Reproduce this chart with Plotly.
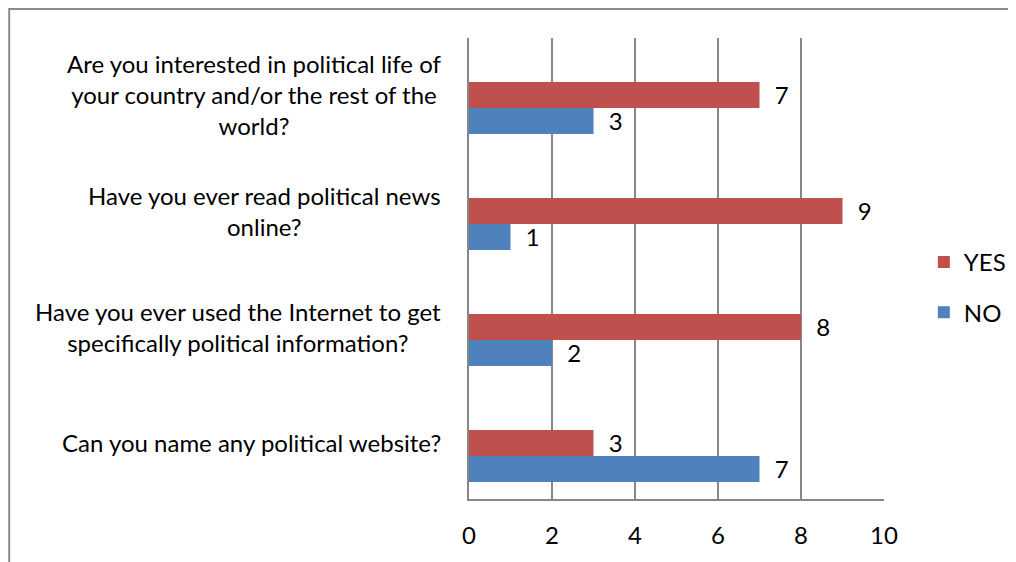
import plotly.graph_objects as go

categories = [
    "Are you interested in political life of<br>your country and/or the rest of the<br>world?",
    "Have you ever read political news<br>online?",
    "Have you ever used the Internet to get<br>specifically political information?",
    "Can you name any political website?",
]
yes_values = [7, 9, 8, 3]
no_values = [3, 1, 2, 7]
x_ticks = [0, 2, 4, 6, 8, 10]

FONT = "Lato"
FS = 24
fig = go.Figure()
fig.add_trace(go.Bar(
    y=categories, x=yes_values, orientation="h", name="YES",
    marker=dict(color="#C0504D", line=dict(width=0)),
    texttemplate="\u00a0\u00a0%{x}", textposition="outside", cliponaxis=False,
    constraintext="none",
    textfont=dict(family=FONT, size=FS, color="#000000"),
    legendgroup="a",
))
fig.add_trace(go.Bar(
    y=categories, x=no_values, orientation="h", name="NO",
    marker=dict(color="#4F81BD", line=dict(width=0)),
    texttemplate="\u00a0\u00a0%{x}", textposition="outside", cliponaxis=False,
    constraintext="none",
    textfont=dict(family=FONT, size=FS, color="#000000"),
    legendgroup="b",
))

for c in categories:
    fig.add_annotation(
        x=-0.063, xref="paper", y=c, yref="y", text=c, showarrow=False,
        xanchor="right", yanchor="middle", align="center", yshift=13,
        font=dict(family=FONT, size=FS, color="#000000"),
    )

fig.add_shape(type="rect", xref="paper", yref="paper",
              x0=-1.108, x1=1.4, y0=-0.2, y1=1.063,
              line=dict(color="#8c8c8c", width=2), layer="below")

fig.update_layout(
    width=1008, height=554,
    margin=dict(l=461, r=132, t=30, b=63, autoexpand=False),
    paper_bgcolor="white", plot_bgcolor="white",
    barmode="group", bargap=0.552, bargroupgap=0,
    font=dict(family=FONT, size=FS, color="#000000"),
    showlegend=True,
    legend=dict(x=1.096, y=0.459, xanchor="left", yanchor="middle",
                traceorder="grouped", tracegroupgap=16,
                font=dict(family=FONT, size=FS, color="#000000"),
                itemwidth=30, bgcolor="rgba(0,0,0,0)"),
    xaxis=dict(range=[0, 10], tickvals=x_ticks, showgrid=True,
               gridcolor="#878787", gridwidth=2, zeroline=False,
               showline=True, linecolor="#878787", linewidth=2,
               ticks="", tickfont=dict(family=FONT, size=FS), ticklabelstandoff=14),
    yaxis=dict(range=[3.371, -0.603], showticklabels=False, showgrid=False,
               zeroline=False, showline=True, linecolor="#878787", linewidth=2,
               ticks=""),
)

fig.write_html("out.html")
